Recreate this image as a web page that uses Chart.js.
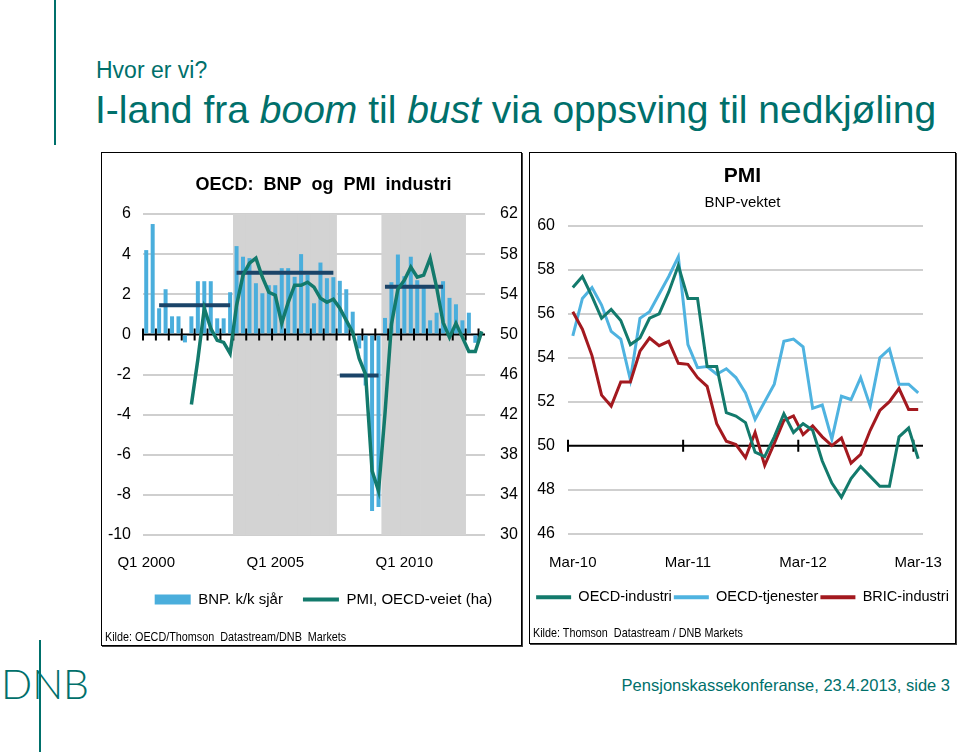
<!DOCTYPE html>
<html>
<head>
<meta charset="utf-8">
<script src="https://cdn.jsdelivr.net/npm/chart.js@4.4.0/dist/chart.umd.min.js"></script>
<style>
body { margin: 0; width: 960px; height: 752px; background: #fff; position: relative; overflow: hidden; font-family: "Liberation Sans", Arial, sans-serif; }
.teal { color: #00706b; }
#topplinje { position: absolute; left: 54px; top: 0; width: 2px; height: 145px; background: #00706b; }
#kicker { position: absolute; left: 96px; top: 59px; font-size: 23px; line-height: 23px; }
#overskrift { position: absolute; left: 95px; top: 90px; font-size: 39px; line-height: 39px; white-space: nowrap; }
.boks { position: absolute; border: 1.5px solid #000; box-shadow: 1px 1px 0 #444; box-sizing: border-box; }
canvas { position: absolute; }
.kilde { position: absolute; font-size: 13.5px; line-height: 14px; white-space: nowrap; transform: scaleX(0.8); transform-origin: left center; }
#fot { position: absolute; right: 10px; top: 677px; font-size: 16.5px; line-height: 17px; }
#logo { position: absolute; left: 1px; top: 663px; font-family: Lato, "Open Sans", sans-serif; font-weight: 300; font-size: 41px; line-height: 41px; }
#logolinje { position: absolute; left: 39px; top: 640px; width: 2px; height: 112px; background: #00706b; }
</style>
</head>
<body>
<div id="topplinje"></div>
<div id="kicker" class="teal">Hvor er vi?</div>
<div id="overskrift" class="teal">I-land fra <i>boom</i> til <i>bust</i> via oppsving til nedkjøling</div>

<div class="boks" style="left:101px; top:152px; width:421px; height:494px;"></div>
<div class="boks" style="left:529px; top:152px; width:427px; height:492px;"></div>
<canvas id="chart_1" width="441" height="488" style="left:103px; top:155px;"></canvas>
<canvas id="chart_2" width="423" height="486" style="left:531px; top:155px;"></canvas>
<div class="kilde" style="left:105px; top:630px;">Kilde: OECD/Thomson&nbsp; Datastream/DNB&nbsp; Markets</div>
<div class="kilde" style="left:533px; top:626px;">Kilde: Thomson&nbsp; Datastream / DNB Markets</div>

<div id="logolinje"></div>
<div id="logo" class="teal">DNB</div>
<div id="fot" class="teal">Pensjonskassekonferanse, 23.4.2013, side 3</div>

<script>
Chart.defaults.font.family = '"Liberation Sans", Arial, sans-serif'
Chart.defaults.color = "#000"

// venstre figur: kvartaler Q1 2000 - Q1 2013
const aar = [2000, 2001, 2002, 2003, 2004, 2005, 2006, 2007, 2008, 2009, 2010, 2011, 2012, 2013]
const kvartaler = []
for (let a of aar) {
    for (let q = 1; q <= 4; q++) {
        if (a === 2013 && q > 1) break
        kvartaler.push("Q" + q + " " + a)
    }
}
// BNP k/k sesongjustert, annualisert
const bnp = [4.2, 5.5, 1.3, 2.25, 0.9, 0.9, -0.4, 0.9, 2.65, 2.65, 2.65, 0.8, 0.8, 2.1,
    4.4, 3.87, 3.8, 2.55, 2.05, 2.45, 2.45, 3.3, 3.3, 2.87, 4.0, 2.97, 1.55, 3.58, 2.8, 2.85,
    2.67, 2.25, 1.13, -0.7, -2.55, -8.8, -8.6,
    0.82, 2.6, 3.98, 2.9, 3.87, 2.7, 2.4, 0.7, 1.08, 2.65, 1.82, 1.5, 0.7, 1.08, -0.42, null]
// PMI, OECD-veiet (høyre akse)
const pmiOecd = [null, null, null, null, null, null, null, 43.0, 47.5, 52.6, 50.6, 49.4, 49.2, 48.1,
    52.9, 55.9, 57.1, 57.6, 55.7, 54.2, 53.9, 51.1, 53.2, 54.9, 54.9, 55.2, 54.7, 53.6, 53.2, 53.5,
    52.6, 51.4, 50.2, 47.6, 46.0, 36.4, 34.4,
    42.1, 51.0, 54.5, 55.4, 56.7, 55.7, 55.9, 57.6, 54.7, 51.2, 49.7, 51.1, 49.7, 48.3, 48.3, 50.3]
// snittvekst i periodene: [fra kvartal, til kvartal, snitt]
const snitt = [[2, 13, 1.45], [14, 29, 3.07], [30, 36, -2.05], [37, 46, 2.37]]
// skraverte perioder (oppgang)
const skygge = [[14, 29], [37, 49]]
const venstreTicks = [-10, -8, -6, -4, -2, 0, 2, 4, 6]
const hoyreTicks = [30, 34, 38, 42, 46, 50, 54, 58, 62]

// høyre figur: måneder Mar-10 - Mar-13
const mnd = ["Mar", "Apr", "May", "Jun", "Jul", "Aug", "Sep", "Oct", "Nov", "Dec", "Jan", "Feb"]
const maaneder = []
for (let i = 0; i < 37; i++) {
    let yy = 10 + Math.floor((i + 2) / 12)
    maaneder.push(mnd[i % 12] + "-" + yy)
}
const oecdIndustri = [57.2, 57.7, 56.8, 55.8, 56.2, 55.7, 54.6, 54.9, 55.8, 56.0, 57.0, 58.2,
    56.7, 56.7, 53.6, 53.6, 51.5, 51.35, 51.05, 49.7, 49.5, 50.4, 51.45, 50.6,
    51.0, 50.7, 49.3, 48.3, 47.65, 48.5, 49.05, 48.6, 48.15, 48.15, 50.4, 50.8, 49.4]
const oecdTjenester = [55.0, 56.7, 57.2, 56.4, 55.2, 54.85, 53.0, 55.8, 56.1, 56.9, 57.7, 58.6,
    54.6, 53.55, 53.6, 53.25, 53.5, 53.1, 52.4, 51.2, 52.0, 52.8, 54.75, 54.85,
    54.5, 51.7, 51.85, 50.3, 52.25, 52.1, 53.1, 51.8, 54.0, 54.4, 52.8, 52.8, 52.4]
const bricIndustri = [56.1, 55.3, 54.1, 52.3, 51.8, 52.9, 52.9, 54.3, 54.9, 54.55, 54.75, 53.75,
    53.7, 53.1, 52.7, 51.0, 50.2, 50.05, 49.45, 50.6, 49.1, 50.1, 51.15, 51.35,
    50.5, 50.9, 50.4, 50.0, 50.35, 49.2, 49.6, 50.7, 51.6, 52.0, 52.6, 51.65, 51.65]

const teal = "#137a6c"
const blaa = "#4aaedc"
const lysblaa = "#4fb3e0"
const roed = "#a3191f"
const navy = "#1b4468"
const graa = "#d3d3d3"
const grid = "#cfcfcf"

function lag_snitt(perioder){
    let d = kvartaler.map(() => null)
    for (let p of perioder) {
        for (let i = p[0]; i <= p[1]; i++) d[i] = p[2]
    }
    return d
}
let skyggeData = kvartaler.map(() => null)
for (let s of skygge) {
    for (let i = s[0]; i <= s[1]; i++) skyggeData[i] = [venstreTicks[0], venstreTicks[venstreTicks.length - 1]]
}

// svart nullinje med tikk på x-aksen
function tegn_null(chart, verdi, steg, antall){
    const ctx = chart.ctx
    const x = chart.scales.x
    const y = chart.scales.y.getPixelForValue(verdi)
    const halv = (x.getPixelForValue(1) - x.getPixelForValue(0)) / 2
    ctx.save()
    ctx.strokeStyle = "#000"
    ctx.lineWidth = 2
    ctx.beginPath()
    ctx.moveTo(chart.chartArea.left, y)
    ctx.lineTo(chart.chartArea.right, y)
    for (let i = 0; i < antall; i += steg) {
        let px = x.getPixelForValue(i) - halv
        ctx.moveTo(px, y - 6)
        ctx.lineTo(px, y + 6)
    }
    ctx.stroke()
    ctx.restore()
}

function legend_fra(chart, idx){
    return idx.map(i => {
        let ds = chart.data.datasets[i]
        let linje = ds.type === "line" || chart.config.type === "line" && ds.type === undefined
        return {
            text: ds.label,
            fillStyle: linje ? ds.borderColor : ds.backgroundColor,
            strokeStyle: linje ? ds.borderColor : ds.backgroundColor,
            lineWidth: linje ? 4 : 0,
            pointStyle: linje ? "line" : "rect",
            datasetIndex: i
        }
    })
}

const ctx_1 = document.getElementById("chart_1").getContext("2d")
const chart_1 = new Chart(ctx_1, {
    type: "bar",
    data: {
        labels: kvartaler,
        datasets: [
            {type: "line", label: "PMI, OECD-veiet (ha)", data: pmiOecd, yAxisID: "y1", borderColor: teal, borderWidth: 3.5, pointRadius: 0, tension: 0, order: 0},
            {type: "line", label: "snitt a", data: lag_snitt([snitt[0], snitt[2]]), yAxisID: "y", borderColor: navy, borderWidth: 4, pointRadius: 0, order: 1},
            {type: "line", label: "snitt b", data: lag_snitt([snitt[1], snitt[3]]), yAxisID: "y", borderColor: navy, borderWidth: 4, pointRadius: 0, order: 1},
            {type: "bar", label: "BNP. k/k sjår", data: bnp, yAxisID: "y", backgroundColor: blaa, barPercentage: 0.62, categoryPercentage: 1, grouped: false, order: 2},
            {type: "bar", label: "skygge", data: skyggeData, yAxisID: "y", backgroundColor: graa, barPercentage: 1, categoryPercentage: 1, grouped: false, order: 3}
        ]
    },
    options: {
        responsive: false,
        animation: false,
        layout: {padding: {top: 0, bottom: 26, left: 0, right: 0}},
        plugins: {
            title: {display: true, text: "OECD:  BNP  og  PMI  industri", font: {size: 18, weight: "bold"}, color: "#000", padding: {top: 19, bottom: 18.4}},
            legend: {
                position: "bottom",
                labels: {
                    usePointStyle: true, pointStyleWidth: 36, boxWidth: 36, boxHeight: 10, padding: 20,
                    font: {size: 15}, color: "#000",
                    generateLabels: chart => legend_fra(chart, [3, 0])
                }
            },
            tooltip: {enabled: false}
        },
        scales: {
            x: {
                grid: {display: false, drawTicks: false}, border: {display: false},
                ticks: {autoSkip: false, maxRotation: 0, padding: 19, font: {size: 15},
                    callback: function(v, i){ return i % 20 === 0 ? this.getLabelForValue(v) : "" }},
                afterFit: s => { s.height = 37; s.paddingLeft = 0; s.paddingRight = 0 }
            },
            y: {
                position: "left", min: venstreTicks[0], max: venstreTicks[venstreTicks.length - 1],
                afterBuildTicks: s => { s.ticks = venstreTicks.map(v => ({value: v})) },
                ticks: {padding: 12, font: {size: 16}},
                grid: {color: c => c.tick && c.tick.value === 0 ? "rgba(0,0,0,0)" : grid, lineWidth: 2, drawTicks: false},
                border: {display: false},
                afterFit: s => { s.width = 40 }
            },
            y1: {
                position: "right", min: hoyreTicks[0], max: hoyreTicks[hoyreTicks.length - 1],
                afterBuildTicks: s => { s.ticks = hoyreTicks.map(v => ({value: v})) },
                ticks: {padding: 15, font: {size: 16}},
                grid: {display: false, drawTicks: false}, border: {display: false},
                afterFit: s => { s.width = 59 }
            }
        }
    },
    plugins: [{
        id: "nullinje_1",
        afterDatasetDraw(chart, args){
            if (args.index === 4) tegn_null(chart, 0, 2, kvartaler.length)
        }
    }]
})

const ctx_2 = document.getElementById("chart_2").getContext("2d")
const chart_2 = new Chart(ctx_2, {
    type: "line",
    data: {
        labels: maaneder,
        datasets: [
            {label: "OECD-industri", data: oecdIndustri, borderColor: teal, borderWidth: 3, pointRadius: 0, tension: 0, order: 0},
            {label: "OECD-tjenester", data: oecdTjenester, borderColor: lysblaa, borderWidth: 3, pointRadius: 0, tension: 0, order: 2},
            {label: "BRIC-industri", data: bricIndustri, borderColor: roed, borderWidth: 3, pointRadius: 0, tension: 0, order: 1}
        ]
    },
    options: {
        responsive: false,
        animation: false,
        layout: {padding: {top: 0, bottom: 26.5, left: 0, right: 0}},
        plugins: {
            title: {display: true, text: "PMI", font: {size: 21, weight: "bold"}, color: "#000", padding: {top: 8.4, bottom: 0}},
            subtitle: {display: true, text: "BNP-vektet", font: {size: 15}, color: "#000", padding: {top: 5.4, bottom: 14}},
            legend: {
                position: "bottom",
                labels: {
                    usePointStyle: true, pointStyleWidth: 35, boxWidth: 35, boxHeight: 10, padding: 2,
                    font: {size: 14.5}, color: "#000",
                    generateLabels: chart => legend_fra(chart, [0, 1, 2])
                }
            },
            tooltip: {enabled: false}
        },
        scales: {
            x: {
                offset: true,
                grid: {display: false, drawTicks: false}, border: {display: false},
                ticks: {autoSkip: false, maxRotation: 0, padding: 20, font: {size: 15},
                    callback: function(v, i){ return i % 12 === 0 ? this.getLabelForValue(v) : "" }},
                afterFit: s => { s.height = 54.5; s.paddingLeft = 0; s.paddingRight = 0 }
            },
            y: {
                min: 46, max: 60,
                ticks: {stepSize: 2, padding: 13, font: {size: 16}},
                grid: {color: c => c.tick && c.tick.value === 50 ? "rgba(0,0,0,0)" : grid, lineWidth: 2, drawTicks: false},
                border: {display: false},
                afterFit: s => { s.width = 37 }
            },
            // tom akse som holder av plass til høyre for plottet
            y2: {
                position: "right", display: true,
                ticks: {display: false}, grid: {display: false, drawTicks: false}, border: {display: false},
                afterFit: s => { s.width = 31 }
            }
        }
    },
    plugins: [{
        id: "nullinje_2",
        beforeDatasetsDraw(chart){
            tegn_null(chart, 50, 12, maaneder.length)
        }
    }]
})
</script>
</body>
</html>
